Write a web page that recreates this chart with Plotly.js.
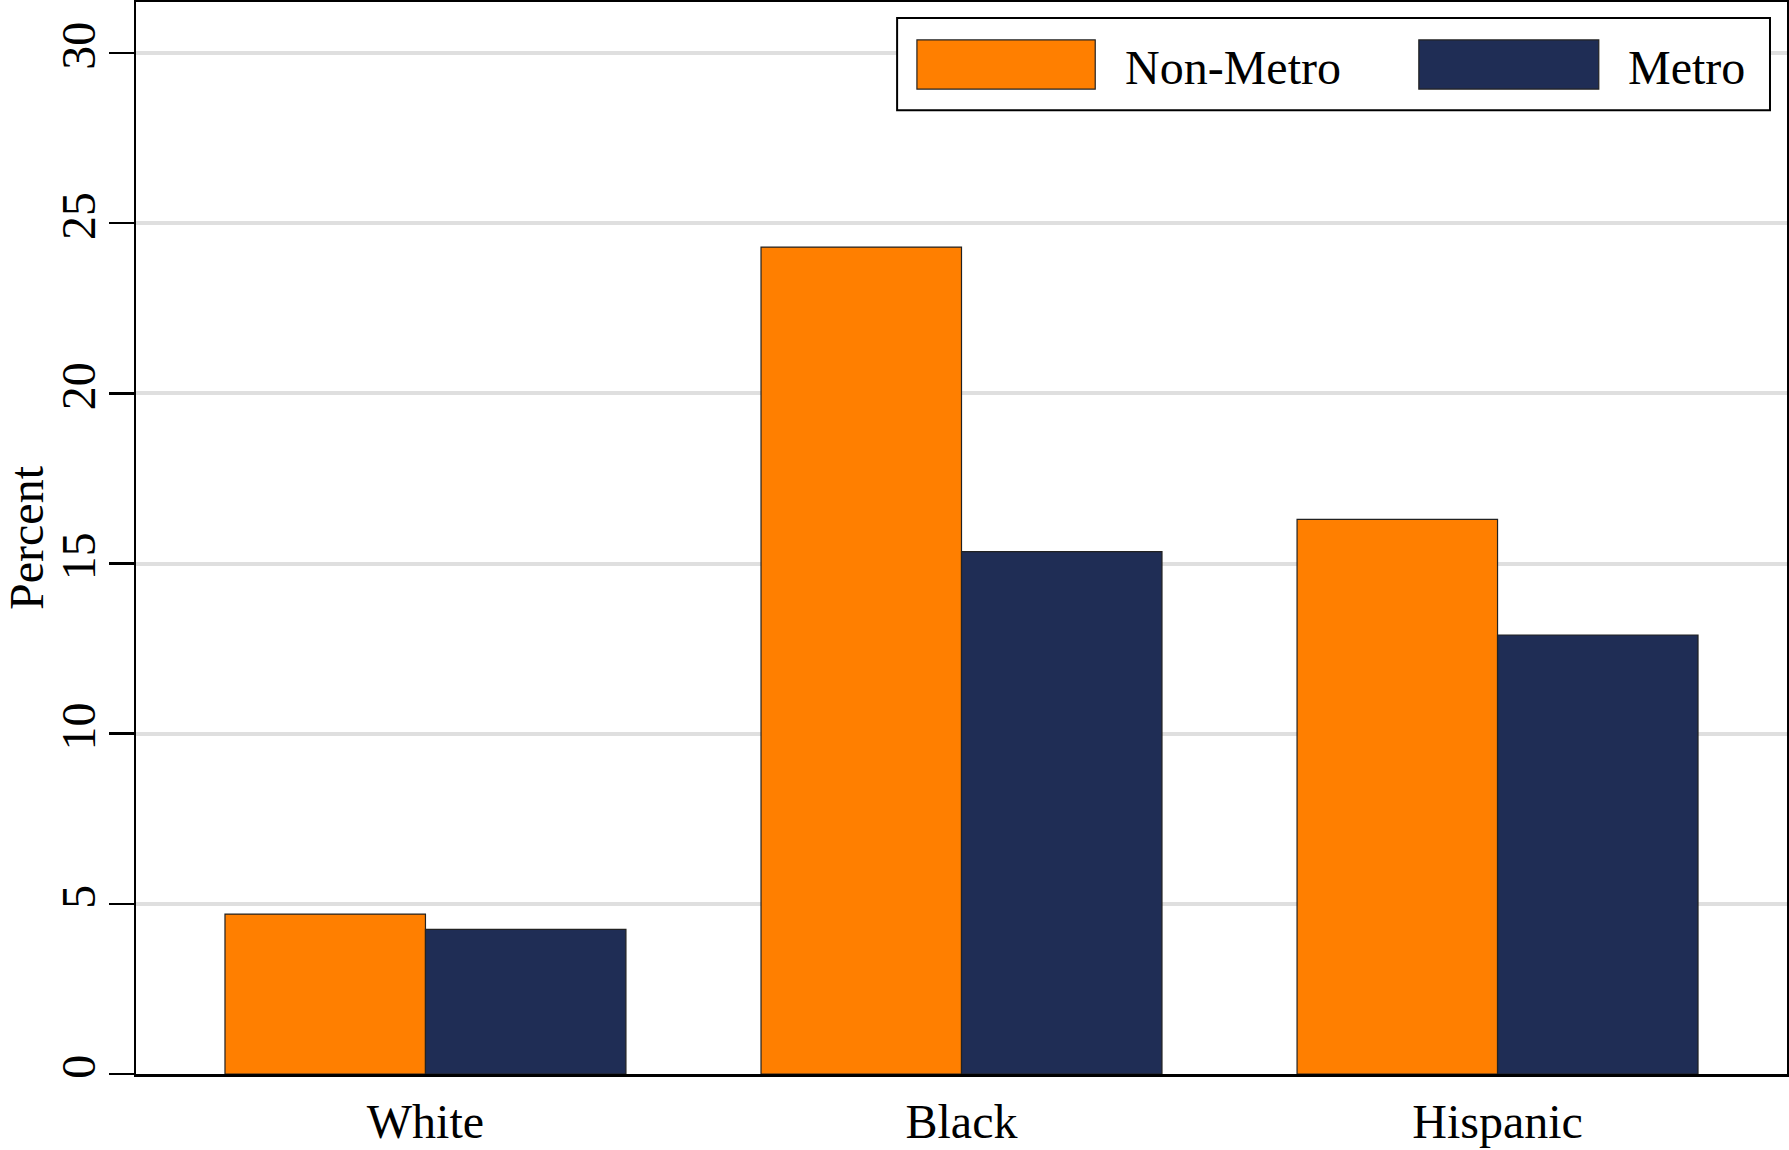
<!DOCTYPE html>
<html>
<head>
<meta charset="utf-8">
<script src="https://cdn.plot.ly/plotly-3.0.1.min.js"></script>
<style>html,body{margin:0;padding:0;background:#fff;}#chart{width:1789px;height:1150px;}</style>
</head>
<body>
<div id="chart"></div>
<script>
const categories = ["White", "Black", "Hispanic"];
const nonMetro = [4.7, 24.3, 16.3];
const metro = [4.25, 15.35, 12.9];
const seriesNames = ["Non-Metro", "Metro"];
const yTicks = [0, 5, 10, 15, 20, 25, 30];

const FONT = "Liberation Serif, Times New Roman, serif";
const ORANGE = "#ff7f00";
const NAVY = "#1f2d55";

const traces = [
  {type: "bar", name: seriesNames[0], x: categories, y: nonMetro,
   marker: {color: ORANGE, line: {color: "#222", width: 1.2}}, showlegend: false},
  {type: "bar", name: seriesNames[1], x: categories, y: metro,
   marker: {color: NAVY, line: {color: "#222", width: 1.2}}, showlegend: false}
];

const layout = {
  width: 1789, height: 1150,
  margin: {l: 136, r: 2, t: 2, b: 76, pad: 0},
  paper_bgcolor: "#fff", plot_bgcolor: "#fff",
  font: {family: FONT, size: 48, color: "#000"},
  barmode: "group", bargap: 0.252, bargroupgap: 0,
  xaxis: {
    range: [-0.54, 2.54], showgrid: false, showline: true, linecolor: "#000", linewidth: 2.5,
    mirror: true, ticks: "", tickfont: {family: FONT, size: 48}, zeroline: false,
    ticklabelstandoff: 4
  },
  yaxis: {
    range: [0, 31.5], tickvals: yTicks, ticktext: yTicks.map(String),
    showgrid: true, gridcolor: "#dfdfdf", gridwidth: 4,
    showline: true, linecolor: "#000", linewidth: 2.5, mirror: true,
    ticks: "outside", ticklen: 25, tickwidth: 2.5, tickcolor: "#000",
    tickangle: -90, tickfont: {family: FONT, size: 48}, zeroline: false,
    ticklabelstandoff: -6,
    title: {text: "Percent", font: {family: FONT, size: 48}, standoff: 20}
  },
  shapes: [
    {type: "rect", xref: "paper", yref: "paper", x0: 0.461, x1: 0.9897, y0: 0.899, y1: 0.985,
     line: {color: "#000", width: 2}, fillcolor: "#fff", layer: "above"},
    {type: "rect", xref: "paper", yref: "paper", x0: 0.473, x1: 0.581, y0: 0.9188, y1: 0.9646,
     line: {color: "#222", width: 1.2}, fillcolor: ORANGE, layer: "above"},
    {type: "rect", xref: "paper", yref: "paper", x0: 0.777, x1: 0.886, y0: 0.9188, y1: 0.9646,
     line: {color: "#222", width: 1.2}, fillcolor: NAVY, layer: "above"}
  ],
  annotations: [
    {xref: "paper", yref: "paper", x: 0.598, y: 0.939, xanchor: "left", yanchor: "middle",
     text: seriesNames[0], showarrow: false, font: {family: FONT, size: 48, color: "#000"}},
    {xref: "paper", yref: "paper", x: 0.9025, y: 0.939, xanchor: "left", yanchor: "middle",
     text: seriesNames[1], showarrow: false, font: {family: FONT, size: 48, color: "#000"}}
  ]
};

Plotly.newPlot("chart", traces, layout, {displayModeBar: false, staticPlot: true});
</script>
</body>
</html>
